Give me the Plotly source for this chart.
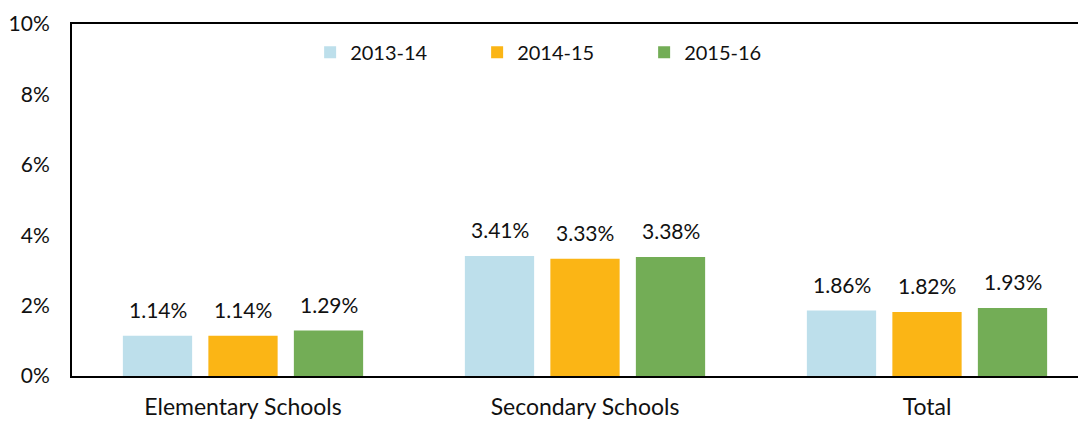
import plotly.graph_objects as go

categories = ["Elementary Schools", "Secondary Schools", "Total"]
series_names = ["2013-14", "2014-15", "2015-16"]
v_2013_14 = [1.14, 3.41, 1.86]
v_2014_15 = [1.14, 3.33, 1.82]
v_2015_16 = [1.29, 3.38, 1.93]
y_ticks = [0, 2, 4, 6, 8, 10]
y_tick_labels = ["0%", "2%", "4%", "6%", "8%", "10%"]

colors = ["#BDDFEB", "#FBB515", "#73AD56"]
values = [v_2013_14, v_2014_15, v_2015_16]
FONT = "Lato"

fig = go.Figure()
for name, vals, col in zip(series_names, values, colors):
    fig.add_trace(go.Bar(name=name, x=categories, y=vals, marker_color=col,
                         marker_line_width=0))

# data labels as annotations placed over grouped bars
slot = 0.25
annotations = []
for si, vals in enumerate(values):
    for ci, v in enumerate(vals):
        annotations.append(dict(x=ci + (si - 1) * slot, y=v, xref="x", yref="y",
                                text=f"{v:.2f}%", showarrow=False, yanchor="bottom",
                                yshift=12, font=dict(family=FONT, size=21, color="#111")))

# page has an 8px body margin, so the figure is shifted by 8px right/down
fig.update_layout(
    width=1086, height=422,
    margin=dict(l=64, r=0, t=16, b=54, autoexpand=False),
    paper_bgcolor="white", plot_bgcolor="white",
    barmode="group", bargap=0.25, bargroupgap=0.19,
    font=dict(family=FONT, size=20, color="#111"),
    showlegend=True,
    legend=dict(orientation="h", x=0.233, y=0.975, xanchor="left", yanchor="top",
                font=dict(family=FONT, size=20, color="#111"), itemwidth=30,
                traceorder="normal", entrywidth=122, entrywidthmode="pixels",
                bgcolor="rgba(0,0,0,0)", tracegroupgap=0),
    annotations=annotations,
)
fig.update_xaxes(range=[-0.5, -0.5 + 1022 / 342], showline=True, linecolor="black",
                 linewidth=2, mirror=True, ticks="", tickfont=dict(size=23, family=FONT, color="#111"),
                 showgrid=False, automargin=False, ticklabelstandoff=9)
fig.update_yaxes(range=[0, 10], tickvals=y_ticks, ticktext=y_tick_labels, showline=True,
                 linecolor="black", linewidth=2, ticks="", showgrid=False, zeroline=False,
                 tickfont=dict(size=21, family=FONT, color="#111"), ticklabelstandoff=16,
                 automargin=False)

fig.write_html("out.html")
